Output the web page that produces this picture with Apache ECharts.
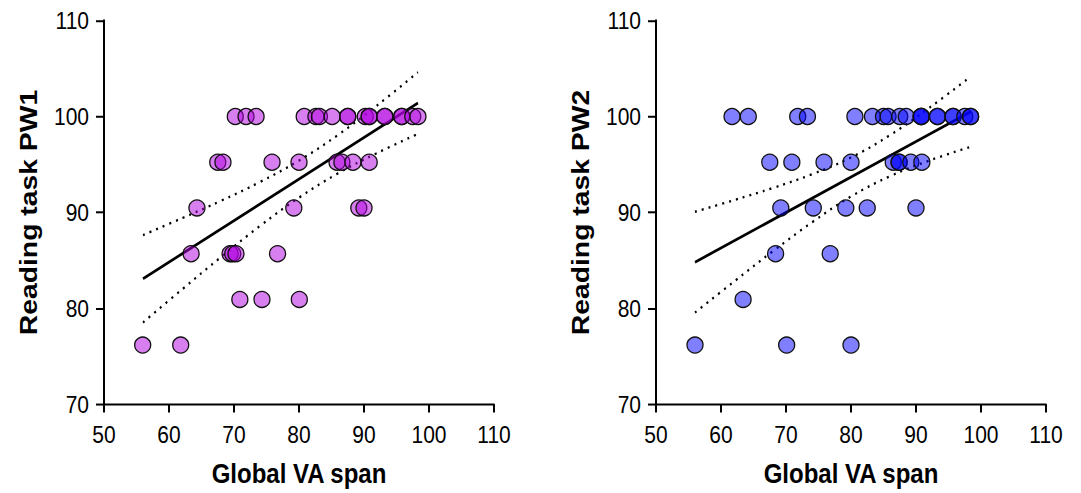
<!DOCTYPE html>
<html><head><meta charset="utf-8">
<script src="https://cdn.jsdelivr.net/npm/echarts@6/dist/echarts.min.js"></script>
<style>
html,body{margin:0;padding:0;background:#fff;overflow:hidden;width:1081px;height:493px}
#c{width:1081px;height:418px;transform:scaleY(1.17943);transform-origin:0 0}
</style>
</head><body><div id="c"></div>
<script>
// ---- Left panel: Reading task PW1 vs Global VA span ----
const pw1X = [70.2, 71.85, 73.4, 80.8, 82.6, 83.15, 85.1, 87.5, 87.5, 90.2, 90.8, 90.8, 93.2, 93.2, 95.8, 95.8, 97.5, 98.3,
              67.5, 68.3, 75.85, 80.0, 85.85, 86.6, 88.3, 90.8,
              64.3, 79.2, 89.2, 90.0,
              63.4, 69.4, 69.8, 70.3, 76.7,
              70.9, 74.3, 80.05,
              55.95, 61.8];
const pw1Y = [100, 100, 100, 100, 100, 100, 100, 100, 100, 100, 100, 100, 100, 100, 100, 100, 100, 100,
              95.24, 95.24, 95.24, 95.24, 95.24, 95.24, 95.24, 95.24,
              90.48, 90.48, 90.48, 90.48,
              85.71, 85.71, 85.71, 85.71, 85.71,
              80.95, 80.95, 80.95,
              76.19, 76.19];
const pw1FitX = [56.0, 98.3];
const pw1FitY = [83.1, 101.4];
const pw1BandX = [56, 62, 68, 74, 80, 86, 92, 98.3];
const pw1Upper = [87.65, 89.41, 91.22, 93.18, 95.41, 98.08, 101.15, 104.61];
const pw1Lower = [78.55, 81.99, 85.36, 88.6, 91.55, 94.08, 96.19, 98.19];

// ---- Right panel: Reading task PW2 vs Global VA span ----
const pw2X = [61.7, 64.2, 71.8, 73.3, 80.6, 83.3, 85.0, 85.7, 87.5, 88.5, 90.8, 90.8, 90.8, 93.3, 93.3, 95.7, 95.7, 97.5, 98.4, 98.4,
              67.5, 70.9, 75.85, 80.0, 86.5, 87.4, 87.4, 89.2, 90.9,
              69.2, 74.2, 79.2, 82.5, 90.0,
              68.4, 76.8,
              63.4,
              56.0, 70.1, 80.0];
const pw2Y = [100, 100, 100, 100, 100, 100, 100, 100, 100, 100, 100, 100, 100, 100, 100, 100, 100, 100, 100, 100,
              95.24, 95.24, 95.24, 95.24, 95.24, 95.24, 95.24, 95.24, 95.24,
              90.48, 90.48, 90.48, 90.48, 90.48,
              85.71, 85.71,
              80.95,
              76.19, 76.19, 76.19];
const pw2FitX = [56.0, 98.4];
const pw2FitY = [84.83, 100.5];
const pw2BandX = [56, 62, 68, 74, 80, 86, 92, 98.4];
const pw2Upper = [90.08, 91.29, 92.56, 93.98, 95.73, 98.06, 100.88, 104.16];
const pw2Lower = [79.58, 82.81, 85.98, 88.98, 91.67, 93.78, 95.4, 96.84];

const xTitle = 'Global VA span';
const yTitles = ['Reading task PW1', 'Reading task PW2'];
const FONT = '"Liberation Sans", Arial, sans-serif';
const SY = 1.17943; // the page is stretched vertically by this factor (CSS), like the reference

const pairs = (xs, ys) => xs.map((x, i) => [x, ys[i]]);

function xAxis(gi) {
  return {
    type: 'value', gridIndex: gi, min: 50, max: 110, interval: 10,
    axisLine: { show: true, onZero: false, lineStyle: { color: '#000', width: 2 / SY } },
    axisTick: { show: true, length: 8 / SY, lineStyle: { color: '#000', width: 2 } },
    axisLabel: { color: '#000', fontSize: 21, fontFamily: FONT, margin: 15 },
    splitLine: { show: false },
    name: xTitle, nameLocation: 'middle', nameGap: 46,
    nameTextStyle: { color: '#000', fontSize: 24, fontWeight: 'bold', fontFamily: FONT }
  };
}
function yAxis(gi) {
  return {
    type: 'value', gridIndex: gi, min: 70, max: 110, interval: 10,
    axisLine: { show: true, onZero: false, lineStyle: { color: '#000', width: 2 } },
    axisTick: { show: true, length: 8, lineStyle: { color: '#000', width: 2 / SY } },
    axisLabel: { color: '#000', fontSize: 21, fontFamily: FONT, margin: 15 },
    splitLine: { show: false },
    name: yTitles[gi], nameLocation: 'middle', nameGap: 63,
    nameTextStyle: { color: '#000', fontSize: 24, fontWeight: 'bold', fontFamily: FONT }
  };
}
function lineSeries(gi, data, dotted) {
  return {
    type: 'line', xAxisIndex: gi, yAxisIndex: gi, data: data,
    showSymbol: false, symbol: 'none', smooth: dotted ? 0.4 : false, z: 2, silent: true,
    lineStyle: dotted ? { color: '#000', width: 2, type: [2, 5] } : { color: '#000', width: 2.4 }
  };
}
function scatter(gi, data, color) {
  return {
    type: 'scatter', xAxisIndex: gi, yAxisIndex: gi, data: data, symbolSize: [16, 16 / SY], z: 3,
    itemStyle: { color: color, borderColor: '#111', borderWidth: 1.2, opacity: 1 }
  };
}

const chart = echarts.init(document.getElementById('c'), null, { renderer: 'svg', width: 1081, height: 418 });
chart.setOption({
  animation: false,
  backgroundColor: '#fff',
  grid: [
    { left: 104, right: 587, top: 20.5 / SY, bottom: 83 / SY, containLabel: false },
    { left: 656, right: 35, top: 20.5 / SY, bottom: 83 / SY, containLabel: false }
  ],
  xAxis: [xAxis(0), xAxis(1)],
  yAxis: [yAxis(0), yAxis(1)],
  series: [
    lineSeries(0, pairs(pw1FitX, pw1FitY), false),
    lineSeries(0, pairs(pw1BandX, pw1Upper), true),
    lineSeries(0, pairs(pw1BandX, pw1Lower), true),
    scatter(0, pairs(pw1X, pw1Y), 'rgba(178,0,225,0.5)'),
    lineSeries(1, pairs(pw2FitX, pw2FitY), false),
    lineSeries(1, pairs(pw2BandX, pw2Upper), true),
    lineSeries(1, pairs(pw2BandX, pw2Lower), true),
    scatter(1, pairs(pw2X, pw2Y), 'rgba(0,0,255,0.5)')
  ]
});
</script>
</body></html>
